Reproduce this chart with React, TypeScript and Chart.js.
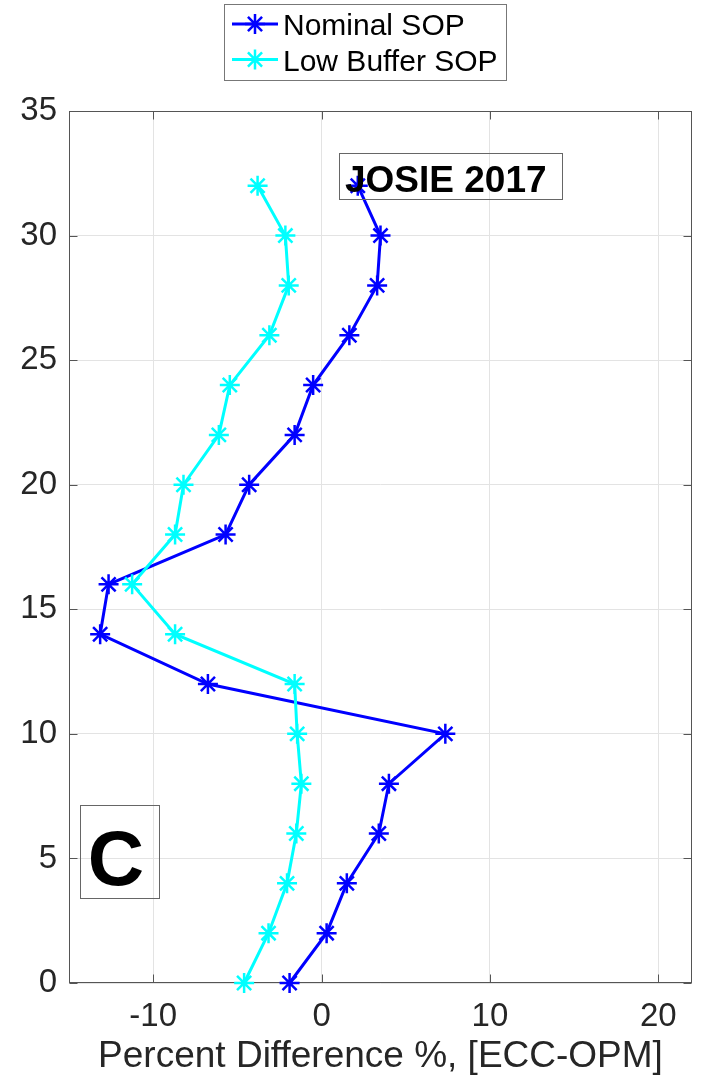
import React, { useEffect, useRef } from 'react';
import { Chart, registerables } from 'chart.js';

Chart.register(...registerables);

// ---- data ----
const altitudes = [0, 2, 4, 6, 8, 10, 12, 14, 16, 18, 20, 22, 24, 26, 28, 30, 32];
const nominalSOP = [-1.9, 0.3, 1.5, 3.4, 4.0, 7.35, -6.75, -13.15, -12.65, -5.7, -4.3, -1.6, -0.5, 1.65, 3.3, 3.5, 2.15];
const lowBufferSOP = [-4.6, -3.15, -2.05, -1.5, -1.2, -1.45, -1.6, -8.7, -11.25, -8.7, -8.2, -6.1, -5.45, -3.1, -1.95, -2.15, -3.8];
const seriesLabels = ['Nominal SOP', 'Low Buffer SOP'];
const xTicks = [-10, 0, 10, 20];
const yTicks = [0, 5, 10, 15, 20, 25, 30, 35];
const xTitle = 'Percent Difference %, [ECC-OPM]';
const campaignLabel = 'JOSIE 2017';
const panelLabel = 'C';

// ---- styles ----
const FONT = '"Liberation Sans", Arial, Helvetica, sans-serif';
const COLORS = ['#0000ff', '#00ffff'];
const AXIS_COLOR = '#555555';
const TEXT_COLOR = '#262626';

function strokeStar(ctx: CanvasRenderingContext2D, x: number, y: number, r: number) {
  const d = r * Math.SQRT1_2;
  ctx.beginPath();
  ctx.moveTo(x - r, y); ctx.lineTo(x + r, y);
  ctx.moveTo(x, y - r); ctx.lineTo(x, y + r);
  ctx.moveTo(x - d, y - d); ctx.lineTo(x + d, y + d);
  ctx.moveTo(x - d, y + d); ctx.lineTo(x + d, y - d);
  ctx.stroke();
}

const framePlugin = {
  id: 'frame',
  beforeDatasetsDraw(chart: any) {
    const { ctx, chartArea: a, scales } = chart;
    ctx.save();
    ctx.strokeStyle = AXIS_COLOR;
    ctx.lineWidth = 1;
    const L = Math.round(a.left) + 0.5, R = Math.round(a.right) - 0.5;
    const T = Math.round(a.top) + 0.5, B = Math.round(a.bottom) - 0.5;
    ctx.strokeRect(L, T, R - L, B - T);
    const tl = 8;
    ctx.beginPath();
    xTicks.forEach((v) => {
      const px = Math.round(scales.x.getPixelForValue(v)) + 0.5;
      ctx.moveTo(px, B); ctx.lineTo(px, B - tl);
      ctx.moveTo(px, T); ctx.lineTo(px, T + tl);
    });
    yTicks.forEach((v) => {
      const py = Math.round(scales.y.getPixelForValue(v)) + 0.5;
      ctx.moveTo(L, py); ctx.lineTo(L + tl, py);
      ctx.moveTo(R, py); ctx.lineTo(R - tl, py);
    });
    ctx.stroke();
    ctx.restore();
  },
  afterDraw(chart: any) {
    const { ctx } = chart;
    ctx.save();
    // legend
    ctx.fillStyle = '#ffffff';
    ctx.fillRect(224.5, 4.5, 282, 76);
    ctx.strokeStyle = '#777777';
    ctx.lineWidth = 1;
    ctx.strokeRect(224.5, 4.5, 282, 76);
    const rows = [24, 59.5];
    chart.data.datasets.forEach((ds: any, i: number) => {
      const y = rows[i];
      ctx.strokeStyle = ds.borderColor;
      ctx.lineWidth = 3;
      ctx.beginPath();
      ctx.moveTo(232, y); ctx.lineTo(278, y);
      ctx.stroke();
      ctx.lineWidth = 2.5;
      strokeStar(ctx, 255, y, 10);
      ctx.fillStyle = '#000000';
      ctx.font = `30px ${FONT}`;
      ctx.textAlign = 'left';
      ctx.textBaseline = 'alphabetic';
      ctx.fillText(ds.label, 283, y + 11);
    });
    // campaign label box
    ctx.strokeStyle = '#666666';
    ctx.lineWidth = 1;
    ctx.strokeRect(339.5, 153.5, 223, 46);
    ctx.fillStyle = '#000000';
    ctx.font = `bold 37px ${FONT}`;
    ctx.textAlign = 'left';
    ctx.textBaseline = 'alphabetic';
    ctx.fillText(campaignLabel, 345, 192);
    // panel label box
    ctx.strokeRect(80.5, 805.5, 79, 93);
    ctx.font = `bold 78px ${FONT}`;
    ctx.textAlign = 'center';
    ctx.fillText(panelLabel, 116, 885);
    ctx.restore();
  },
};

export default function App() {
  const ref = useRef<HTMLCanvasElement | null>(null);
  useEffect(() => {
    document.body.style.margin = '0';
    const canvas = ref.current;
    if (!canvas) return;
    const mk = (vals: number[]) => vals.map((v, i) => ({ x: v, y: altitudes[i] }));
    const chart = new Chart(canvas, {
      type: 'scatter',
      data: {
        datasets: [
          {
            label: seriesLabels[0],
            data: mk(nominalSOP),
            showLine: true,
            borderColor: COLORS[0],
            backgroundColor: COLORS[0],
            borderWidth: 3,
            pointStyle: 'star',
            pointRadius: 10,
            pointBorderWidth: 2.5,
            pointBorderColor: COLORS[0],
            clip: false,
            order: 1,
          },
          {
            label: seriesLabels[1],
            data: mk(lowBufferSOP),
            showLine: true,
            borderColor: COLORS[1],
            backgroundColor: COLORS[1],
            borderWidth: 3,
            pointStyle: 'star',
            pointRadius: 10,
            pointBorderWidth: 2.5,
            pointBorderColor: COLORS[1],
            clip: false,
            order: 0,
          },
        ],
      },
      options: {
        responsive: false,
        animation: false,
        devicePixelRatio: 1,
        layout: { padding: { top: 111, right: 18, left: 0, bottom: 0 } },
        plugins: { legend: { display: false }, tooltip: { enabled: false } },
        scales: {
          x: {
            type: 'linear',
            min: -15,
            max: 22,
            afterBuildTicks: (s: any) => { s.ticks = xTicks.map((v) => ({ value: v })); },
            afterFit: (s: any) => { s.height = 93; },
            grid: { color: '#e3e3e3', drawTicks: false, lineWidth: 1 },
            border: { display: false },
            ticks: { color: TEXT_COLOR, font: { family: FONT, size: 33 }, padding: 14, maxRotation: 0 },
            title: { display: true, text: xTitle, color: TEXT_COLOR, font: { family: FONT, size: 37 }, padding: { top: 0, bottom: -3 } },
          },
          y: {
            type: 'linear',
            min: 0,
            max: 35,
            afterBuildTicks: (s: any) => { s.ticks = yTicks.map((v) => ({ value: v })); },
            afterFit: (s: any) => { s.width = 69; },
            grid: { color: '#e3e3e3', drawTicks: false, lineWidth: 1 },
            border: { display: false },
            ticks: { color: TEXT_COLOR, font: { family: FONT, size: 33 }, padding: 12 },
          },
        },
      },
      plugins: [framePlugin],
    } as any);
    return () => chart.destroy();
  }, []);
  return <canvas ref={ref} width={710} height={1076} style={{ display: 'block' }} />;
}
